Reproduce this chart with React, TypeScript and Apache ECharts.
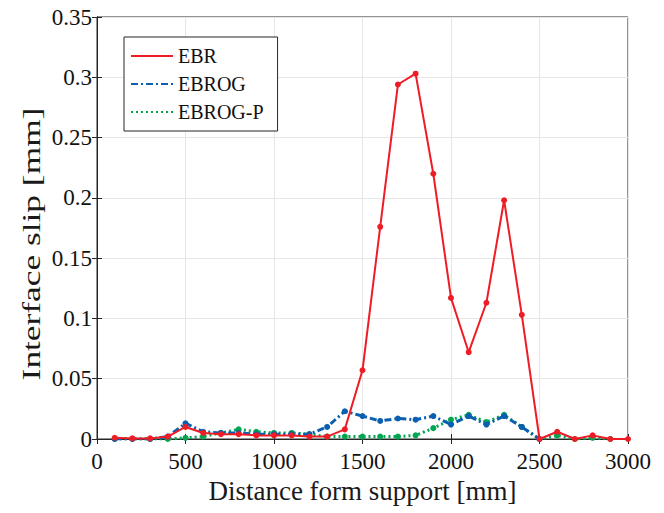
import React, { useEffect, useRef } from "react";
import * as echarts from "echarts";

const distances = [100, 200, 300, 400, 500, 600, 700, 800, 900, 1000, 1100, 1200, 1300, 1400, 1500, 1600, 1700, 1800, 1900, 2000, 2100, 2200, 2300, 2400, 2500, 2600, 2700, 2800, 2900, 3000];
const ebr = [0.001, 0.0005, 0.0005, 0.002, 0.01, 0.005, 0.004, 0.004, 0.003, 0.003, 0.003, 0.002, 0.002, 0.008, 0.057, 0.176, 0.294, 0.303, 0.22, 0.117, 0.072, 0.113, 0.198, 0.103, 0, 0.006, 0, 0.003, 0, 0];
const ebrog = [0, 0, 0, 0.002, 0.013, 0.006, 0.005, 0.005, 0.004, 0.004, 0.004, 0.004, 0.01, 0.023, 0.019, 0.015, 0.017, 0.016, 0.019, 0.012, 0.019, 0.012, 0.019, 0.01, 0];
const ebrogP = [0, 0, 0, 0, 0.001, 0.002, 0.005, 0.008, 0.006, 0.005, 0.005, 0.004, 0.002, 0.002, 0.002, 0.002, 0.002, 0.003, 0.009, 0.016, 0.02, 0.014, 0.02, 0.01, 0, 0.003, 0, 0.001, 0];
const seriesNames = ["EBR", "EBROG", "EBROG-P"];
const xTitle = "Distance form support [mm]";
const yTitle = "Interface slip [mm]";

const FONT = "'Liberation Serif', 'DejaVu Serif', serif";

export default function App() {
  const ref = useRef<HTMLDivElement>(null);
  useEffect(() => {
    if (!ref.current) return;
    const chart = echarts.init(ref.current, null, { renderer: "svg" });
    const pair = (vals: number[]) => vals.map((v, i) => [distances[i], v]);
    const axisLineStyle = { color: "#262626", width: 1 };
    chart.setOption({
      animation: false,
      backgroundColor: "#fff",
      textStyle: { fontFamily: FONT },
      grid: { left: 97, right: 36, top: 17, bottom: 74, show: true, borderColor: "#262626", borderWidth: 1 },
      graphic: [
        {
          type: "text",
          x: 31,
          y: 244,
          rotation: Math.PI / 2,
          scaleX: 1.36,
          style: {
            text: yTitle,
            fontFamily: FONT,
            fontSize: 26,
            fill: "#1a1a1a",
            align: "center",
            verticalAlign: "middle",
          },
        },
      ],
      legend: {
        data: seriesNames,
        orient: "vertical",
        left: 124,
        top: 37,
        padding: [9, 14, 9, 6],
        itemGap: 8,
        itemWidth: 42,
        itemHeight: 14,
        borderColor: "#262626",
        borderWidth: 1,
        backgroundColor: "#fff",
        itemStyle: { opacity: 0 },
        textStyle: { fontFamily: FONT, fontSize: 20, color: "#111" },
      },
      xAxis: [
        {
          type: "value",
          min: 0,
          max: 3000,
          interval: 500,
          name: xTitle,
          nameLocation: "middle",
          nameGap: 38,
          nameTextStyle: { fontFamily: FONT, fontSize: 27, color: "#1a1a1a" },
          axisLine: { show: true, lineStyle: axisLineStyle },
          axisTick: { show: true, inside: true, length: 5, lineStyle: axisLineStyle },
          axisLabel: { fontFamily: FONT, fontSize: 23, color: "#111", margin: 11, formatter: (v: number) => String(v) },
          splitLine: { show: true, lineStyle: { color: "#e6e6e6", width: 1 } },
        },
        {
          type: "value",
          position: "top",
          min: 0,
          max: 3000,
          interval: 500,
          axisLine: { show: true, lineStyle: axisLineStyle },
          axisTick: { show: true, inside: true, length: 5, lineStyle: axisLineStyle },
          axisLabel: { show: false },
          splitLine: { show: false },
        },
      ],
      yAxis: [
        {
          type: "value",
          min: 0,
          max: 0.35,
          interval: 0.05,
          axisLine: { show: true, lineStyle: axisLineStyle },
          axisTick: { show: true, inside: true, length: 5, lineStyle: axisLineStyle },
          axisLabel: { fontFamily: FONT, fontSize: 23, color: "#111", margin: 5 },
          splitLine: { show: true, lineStyle: { color: "#e6e6e6", width: 1 } },
        },
        {
          type: "value",
          position: "right",
          min: 0,
          max: 0.35,
          interval: 0.05,
          axisLine: { show: true, lineStyle: axisLineStyle },
          axisTick: { show: true, inside: true, length: 5, lineStyle: axisLineStyle },
          axisLabel: { show: false },
          splitLine: { show: false },
        },
      ],
      series: [
        {
          name: "EBROG-P",
          type: "line",
          data: pair(ebrogP),
          z: 2,
          symbol: "circle",
          symbolSize: 6,
          itemStyle: { color: "#00a550" },
          lineStyle: { color: "#00a550", width: 3, type: [2, 3] },
        },
        {
          name: "EBROG",
          type: "line",
          data: pair(ebrog),
          z: 3,
          symbol: "circle",
          symbolSize: 6,
          itemStyle: { color: "#0a5fb0" },
          lineStyle: { color: "#0a5fb0", width: 3, type: [7, 3, 2, 3] },
        },
        {
          name: "EBR",
          type: "line",
          data: pair(ebr),
          z: 4,
          symbol: "circle",
          symbolSize: 6,
          itemStyle: { color: "#ee1c25" },
          lineStyle: { color: "#ee1c25", width: 2 },
        },
      ],
    });
    return () => chart.dispose();
  }, []);
  return <div ref={ref} style={{ width: 664, height: 513, position: "absolute", left: 0, top: 0 }} />;
}
